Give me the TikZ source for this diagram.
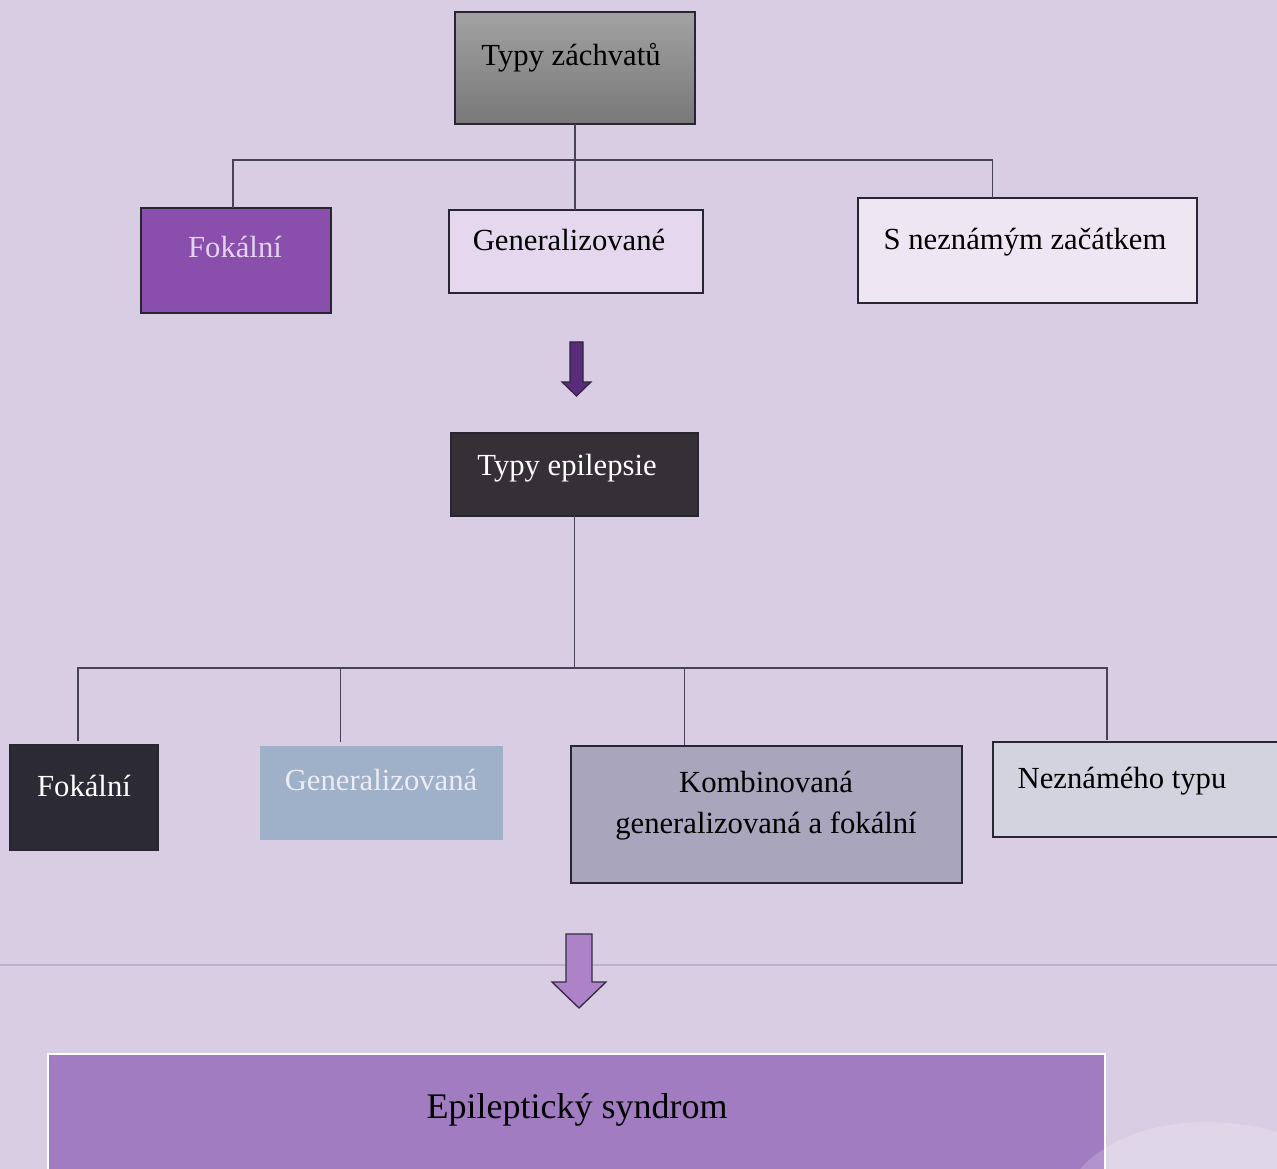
\documentclass[tikz,border=0pt]{standalone}
\usepackage{fontspec}
\setmainfont{Liberation Serif}
\usetikzlibrary{calc}

\begin{document}
\begin{tikzpicture}[x=0.75pt,y=0.75pt,yscale=-1,xscale=1,
    box/.style={draw={rgb, 255:red, 40; green, 38; blue, 50 },line width=0.9pt,inner sep=0pt,outer sep=0pt,anchor=north west},
    lbl/.style={font=\fontsize{23}{30.75}\selectfont,anchor=base},
    link/.style={draw={rgb, 255:red, 72; green, 66; blue, 88 },line width=0.9pt}]
              \clip (0,0) rectangle (1277,1169);
              \fill [color={rgb, 255:red, 216; green, 205; blue, 226 }] (0,0) rectangle (1277,1169);
              \draw [color={rgb, 255:red, 192; green, 174; blue, 208 },line width=0.8pt] (0,965) -- (1277,965);
              % seizure types
              \node (tz) [box,top color={rgb, 255:red, 162; green, 162; blue, 162 },bottom color={rgb, 255:red, 120; green, 120; blue, 120 },minimum width=180pt,minimum height=84pt] at (455,12) {};
              \node (fok1) [box,fill={rgb, 255:red, 138; green, 79; blue, 173 },minimum width=142.5pt,minimum height=78.75pt] at (141,208) {};
              \node (gen1) [box,fill={rgb, 255:red, 229; green, 216; blue, 238 },minimum width=190.5pt,minimum height=62.25pt] at (449,210) {};
              \node (unk1) [box,fill={rgb, 255:red, 238; green, 230; blue, 243 },minimum width=254.25pt,minimum height=78.75pt] at (858,198) {};
              \draw (571,66) node (tzt) [lbl] {Typy záchvatů};
              \draw (235,258) node (fok1t) [lbl,text={rgb, 255:red, 226; green, 212; blue, 238 }] {Fokální};
              \draw (569,251) node (gen1t) [lbl] {Generalizované};
              \draw (1025,250) node (unk1t) [lbl] {S neznámým začátkem};
              \coordinate (b1) at (574,160);
              \draw [link] (tz.south) -- (tz.south |- gen1.north);
              \draw [link] ($(fok1.north)+(-3,0)$) |- (b1) -| ($(unk1.north)+(-35,0)$);
              % arrow
              \draw [fill={rgb, 255:red, 88; green, 44; blue, 122 },draw={rgb, 255:red, 48; green, 36; blue, 60 },line width=0.9pt] (570,342) -- (583,342) -- (583,382) -- (591,382) -- (576.5,396) -- (562,382) -- (570,382) -- cycle;
              % epilepsy types
              \node (te) [box,fill={rgb, 255:red, 52; green, 48; blue, 54 },minimum width=185.25pt,minimum height=62.25pt] at (451,433) {};
              \node (fok2) [box,fill={rgb, 255:red, 43; green, 42; blue, 53 },minimum width=111pt,minimum height=78.75pt] at (10,745) {};
              \node (gen2) [box,draw=none,fill={rgb, 255:red, 158; green, 177; blue, 200 },minimum width=182.25pt,minimum height=70.5pt] at (260,746) {};
              \node (komb) [box,fill={rgb, 255:red, 169; green, 165; blue, 188 },minimum width=293.25pt,minimum height=102.75pt] at (571,746) {};
              \node (unk2) [box,fill={rgb, 255:red, 211; green, 210; blue, 223 },minimum width=216pt,minimum height=71.25pt] at (993,742) {};
              \draw (567,475) node (tet) [lbl,text=white] {Typy epilepsie};
              \draw (84,796) node (fok2t) [lbl,text=white] {Fokální};
              \draw (381,790) node (gen2t) [lbl,text={rgb, 255:red, 236; green, 236; blue, 246 }] {Generalizovaná};
              \draw (766,806) node (kombt) [lbl,anchor=center,align=center] {Kombinovaná\\generalizovaná a fokální};
              \draw (1122,788) node (unk2t) [lbl] {Neznámého typu};
              \coordinate (b2) at (574,668);
              \coordinate (g2) at ($(gen2.north)+(-41,-4)$);
              \coordinate (k2) at ($(komb.north)+(-82,-1)$);
              \draw [link] (te.south) -- (te.south |- b2);
              \draw [link] ($(fok2.north)+(-6,-4)$) |- (b2) -| ($(unk2.north)+(-30,-2)$);
              \draw [link] (g2) -- (g2 |- b2);
              \draw [link] (k2) -- (k2 |- b2);
              % arrow
              \draw [fill={rgb, 255:red, 173; green, 130; blue, 200 },draw={rgb, 255:red, 52; green, 44; blue, 62 },line width=1pt] (566,934) -- (592,934) -- (592,982) -- (606,982) -- (579,1008) -- (552,982) -- (566,982) -- cycle;
              % syndrome
              \node (es) [box,draw=white,fill={rgb, 255:red, 162; green, 124; blue, 192 },minimum width=792.75pt,minimum height=96pt] at (48,1054) {};
              \draw (577,1118) node (est) [lbl,font=\fontsize{27}{32}\selectfont] {Epileptický syndrom};
              \fill [white,opacity=0.18] (1080,1169) .. controls (1120,1125) and (1200,1110) .. (1277,1132) -- (1277,1169) -- cycle;
              \end{tikzpicture}
\end{document}
